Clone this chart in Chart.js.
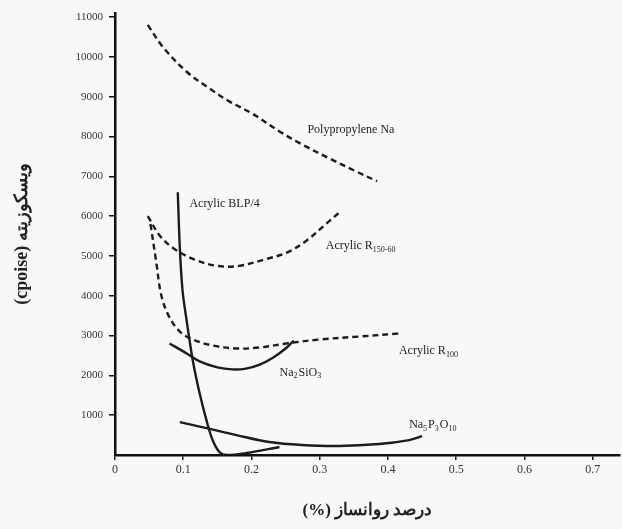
<!DOCTYPE html>
<html>
<head>
<meta charset="utf-8">
<script src="https://cdn.jsdelivr.net/npm/chart.js@4"></script>
<style>
  html, body { margin: 0; padding: 0; background: #f8f8f8; }
  #wrap { width: 622px; height: 529px; }
</style>
</head>
<body>
<div id="wrap"><canvas id="chart"></canvas></div>
<script>
// values (x = fraction of plasticiser, y = viscosity cP)
const polypropyleneX = [0.048, 0.070, 0.105, 0.139, 0.168, 0.201, 0.241, 0.274, 0.314, 0.353, 0.384];
const polypropyleneY = [10800, 10250, 9625, 9200, 8875, 8575, 8125, 7800, 7450, 7125, 6875];

const acrylicUpperX = [0.048, 0.066, 0.085, 0.114, 0.149, 0.182, 0.222, 0.251, 0.280, 0.309, 0.331];
const acrylicUpperY = [6000, 5500, 5200, 4925, 4750, 4750, 4925, 5075, 5375, 5800, 6125];

const acrylicLowerX = [0.052, 0.060, 0.068, 0.080, 0.095, 0.114, 0.143, 0.178, 0.212, 0.251, 0.299, 0.358, 0.416];
const acrylicLowerY = [5800, 4900, 4000, 3450, 3100, 2900, 2750, 2675, 2700, 2800, 2900, 2975, 3050];

const blpX = [0.092, 0.095, 0.099, 0.105, 0.114, 0.124, 0.134, 0.143, 0.153, 0.164, 0.193, 0.241];
const blpY = [6600, 5200, 4125, 3375, 2375, 1550, 875, 375, 75, 0, 50, 200];

const silicateX = [0.080, 0.105, 0.124, 0.150, 0.172, 0.192, 0.212, 0.232, 0.250, 0.262];
const silicateY = [2800, 2550, 2350, 2200, 2150, 2170, 2270, 2450, 2675, 2875];

const phosphateX = [0.095, 0.134, 0.178, 0.226, 0.274, 0.328, 0.387, 0.431, 0.450];
const phosphateY = [825, 675, 500, 325, 250, 225, 275, 375, 475];

const xTicks = ['0', '0.1', '0.2', '0.3', '0.4', '0.5', '0.6', '0.7'];
const yTicks = [1000, 2000, 3000, 4000, 5000, 6000, 7000, 8000, 9000, 10000, 11000];

function pts(xs, ys) {
  return xs.map((x, i) => ({ x: x, y: ys[i] }));
}

function series(xs, ys, dashed) {
  return {
    data: pts(xs, ys),
    borderColor: '#1c1c1c',
    borderWidth: 2.4,
    borderDash: dashed ? [6, 4] : [],
    pointRadius: 0,
    tension: 0.35,
    fill: false
  };
}

// curve labels, text pieces: [normal, subscript, normal, subscript ...]
const labelFont = '"Liberation Serif", "DejaVu Serif", serif';
const curveLabels = [
  { x: 0.282, y: 8175, parts: ['Polypropylene Na'] },
  { x: 0.109, y: 6300, parts: ['Acrylic BLP/4'] },
  { x: 0.309, y: 5250, parts: ['Acrylic R', '150-60'] },
  { x: 0.416, y: 2625, parts: ['Acrylic R', '100'] },
  { x: 0.241, y: 2075, parts: ['Na', '2', 'SiO', '3'] },
  { x: 0.431, y: 750, parts: ['Na', '5', 'P', '3', 'O', '10'] }
];

const labelPlugin = {
  id: 'curveLabels',
  afterDatasetsDraw(chart) {
    const ctx = chart.ctx;
    const xs = chart.scales.x, ys = chart.scales.y;
    ctx.save();
    ctx.fillStyle = '#222';
    ctx.textBaseline = 'middle';
    ctx.textAlign = 'left';
    curveLabels.forEach(l => {
      let px = xs.getPixelForValue(l.x);
      const py = ys.getPixelForValue(l.y);
      l.parts.forEach((p, i) => {
        const sub = i % 2 === 1;
        ctx.font = (sub ? '8px ' : '12px ') + labelFont;
        ctx.fillText(p, px, sub ? py + 4 : py);
        px += ctx.measureText(p).width + (sub ? 1 : 0);
      });
    });
    ctx.restore();
  }
};

new Chart(document.getElementById('chart'), {
  type: 'line',
  data: {
    datasets: [
      series(polypropyleneX, polypropyleneY, true),
      series(acrylicUpperX, acrylicUpperY, true),
      series(acrylicLowerX, acrylicLowerY, true),
      series(blpX, blpY, false),
      series(silicateX, silicateY, false),
      series(phosphateX, phosphateY, false)
    ]
  },
  options: {
    responsive: true,
    maintainAspectRatio: false,
    animation: false,
    layout: { padding: { top: 13, right: 2, left: 0, bottom: 0 } },
    plugins: {
      legend: { display: false },
      tooltip: { enabled: false }
    },
    scales: {
      x: {
        type: 'linear',
        min: 0,
        max: 0.74,
        afterFit(scale) { scale.height = 74; },
        afterBuildTicks(scale) {
          scale.ticks = xTicks.map(t => ({ value: parseFloat(t) }));
        },
        ticks: {
          color: '#333',
          padding: 3,
          font: { family: labelFont, size: 12 },
          callback: (v, i) => xTicks[i]
        },
        grid: { drawOnChartArea: false, tickLength: 5, color: '#111', lineWidth: 1.5 },
        border: { color: '#111', width: 2.5 },
        title: {
          display: true,
          text: '(%) درصد روانساز',
          color: '#222',
          padding: { top: 8, bottom: 8 },
          font: { family: labelFont, size: 17, weight: 'bold' }
        }
      },
      y: {
        type: 'linear',
        min: 0,
        max: 11100,
        afterFit(scale) { scale.width = 115; },
        afterBuildTicks(scale) {
          scale.ticks = yTicks.map(v => ({ value: v }));
        },
        ticks: {
          color: '#333',
          padding: 6,
          font: { family: labelFont, size: 11 },
          callback: v => String(v)
        },
        grid: { drawOnChartArea: false, tickLength: 6, color: '#111', lineWidth: 1.5 },
        border: { color: '#111', width: 2.5 },
        title: {
          display: true,
          text: '(cpoise) ویسکوزیته',
          color: '#222',
          padding: { top: 12, bottom: 4 },
          font: { family: labelFont, size: 18, weight: 'bold' }
        }
      }
    }
  },
  plugins: [labelPlugin]
});
</script>
</body>
</html>
